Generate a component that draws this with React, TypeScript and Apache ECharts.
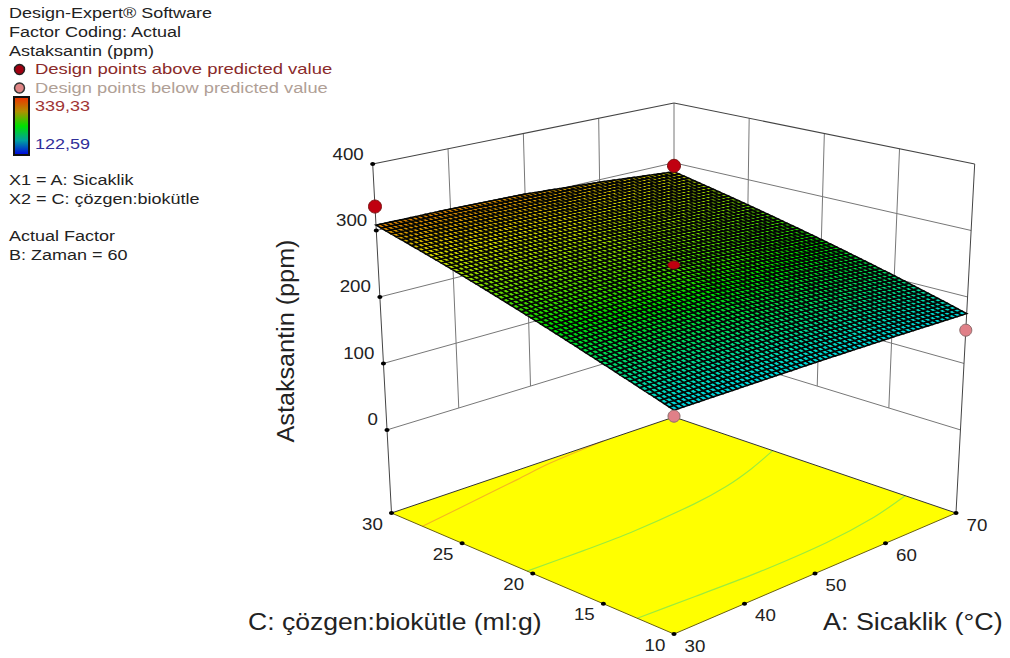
import React, { useEffect, useRef } from "react";
import * as echarts from "echarts";

// ---- Data ----
const aTicks = [30, 40, 50, 60, 70];
const cTicks = [10, 15, 20, 25, 30];
const zTicks = [0, 100, 200, 300, 400];
// Surface heights (ppm) estimated at the tick crossings; rows follow cTicks, columns aTicks.
const surfaceC10 = [174, 175, 176, 176, 175];
const surfaceC15 = [207, 211, 213, 210, 204];
const surfaceC20 = [241, 246, 249, 243, 232];
const surfaceC25 = [275, 277, 277, 270, 259];
const surfaceC30 = [308, 307, 304, 296, 285];
const surfaceRows = [surfaceC10, surfaceC15, surfaceC20, surfaceC25, surfaceC30];
// Design points [A, C, ppm]
const pointsAbove = [[30, 30, 336], [70, 30, 295]];
const pointCentre = [50, 20, 255];
const pointsBelow = [[70, 10, 150], [30, 10, 166]];
// Floor contours as [A, C]
const contourOrange = [[30, 27.8], [40, 28.6], [46, 29.1], [51.6, 29.6], [60, 30]];
const contourGreen1 = [[30, 20.4], [37.8, 20.3], [44.5, 20.3], [54.3, 20.7], [59.8, 21.2], [65, 22], [70, 23]];
const contourGreen2 = [[30, 12.6], [37.8, 12.4], [46.5, 12.2], [56.2, 12.3], [63.9, 12.8], [70, 13.6]];
const infoLines = ["Design-Expert® Software", "Factor Coding: Actual", "Astaksantin (ppm)"];
const colourMax = 339.33;
const colourMin = 122.59;

// ---- Projection of the box: corners of the floor and of the z=400 plane ----
const FLOOR_Z = -125;
const TOP_Z = 400;
const floorQ = { front: [674, 634], right: [956, 513], left: [391.5, 513], back: [674, 417] };
const topQ = { front: [674, 241], right: [974.7, 164], left: [372.7, 164], back: [674, 103] };
const bil = (q: any, a: number, c: number, k: number) =>
  q.front[k] * (1 - a) * (1 - c) + q.right[k] * a * (1 - c) + q.left[k] * (1 - a) * c + q.back[k] * a * c;
const project = (A: number, C: number, z: number) => {
  const a = (A - 30) / 40, c = (C - 10) / 20, t = (z - FLOOR_Z) / (TOP_Z - FLOOR_Z);
  return [0, 1].map((k) => bil(floorQ, a, c, k) * (1 - t) + bil(topQ, a, c, k) * t);
};

// The surface is shaded on a fine drawing mesh: cell corners between the read
// crossings above are interpolated for drawing only.
const MESH = 60;
const surfaceAt = (A: number, C: number) => {
  const x = Math.min((A - 30) / 10, 3.9999), y = Math.min((C - 10) / 5, 3.9999);
  const i = Math.floor(x), j = Math.floor(y), u = x - i, v = y - j;
  return (surfaceRows[j][i] * (1 - u) + surfaceRows[j][i + 1] * u) * (1 - v) +
    (surfaceRows[j + 1][i] * (1 - u) + surfaceRows[j + 1][i + 1] * u) * v;
};
const ramp = [[0, 0, 255], [0, 255, 255], [0, 255, 0], [255, 255, 0], [255, 0, 0]];
const colourOf = (z: number) => {
  const t = Math.max(0, Math.min(0.9999, (z - colourMin) / (colourMax - colourMin))) * 4;
  const i = Math.floor(t), f = t - i;
  const c = ramp[i].map((v, k) => Math.round((v + (ramp[i + 1][k] - v) * f) * 0.85));
  return `rgb(${c[0]},${c[1]},${c[2]})`;
};

const FONT = "Liberation Sans";
const text = (s: string, x: number, y: number, o: any = {}) => ({
  type: "text", x, y, scaleX: o.sx ?? 1.2, scaleY: o.sy ?? 1, rotation: o.rot ?? 0, z: 50,
  style: {
    text: s, fontFamily: FONT, fontSize: o.size ?? 15, fill: o.fill ?? "#222",
    textAlign: o.align ?? "left", textVerticalAlign: "middle", align: o.align ?? "left", verticalAlign: "middle",
  },
});

function buildOption() {
  const segWall: number[][] = [], segTop: number[][] = [], segDark: number[][] = [], segFloorBack: number[][] = [], segFloorFront: number[][] = [];
  zTicks.forEach((z) => {
    (z === 400 ? segTop : segWall).push([30, 30, z, 70, 30, z], [70, 30, z, 70, 10, z]);
  });
  aTicks.slice(1).forEach((A) => segWall.push([A, 30, 0, A, 30, 400]));
  cTicks.slice(1, 4).forEach((C) => segWall.push([70, C, 0, 70, C, 400]));
  segDark.push([30, 30, FLOOR_Z, 30, 30, 400], [70, 10, FLOOR_Z, 70, 10, 400]);
  segFloorBack.push([30, 30, FLOOR_Z, 70, 30, FLOOR_Z], [70, 30, FLOOR_Z, 70, 10, FLOOR_Z]);
  segFloorFront.push([30, 30, FLOOR_Z, 30, 10, FLOOR_Z], [30, 10, FLOOR_Z, 70, 10, FLOOR_Z]);

  const segSeries = (data: number[][], stroke: string, lineWidth: number) => ({
    type: "custom", coordinateSystem: "none", silent: true, data,
    renderItem: (_: any, api: any) => {
      const p = project(api.value(0), api.value(1), api.value(2));
      const q = project(api.value(3), api.value(4), api.value(5));
      return { type: "line", shape: { x1: p[0], y1: p[1], x2: q[0], y2: q[1] }, style: { stroke, lineWidth, fill: null } };
    },
  });
  const contour = (pts: number[][], stroke: string) => ({
    type: "custom", coordinateSystem: "none", silent: true, data: [0],
    renderItem: () => ({
      type: "polyline",
      shape: { points: pts.map((p) => project(p[0], p[1], FLOOR_Z)), smooth: 0.3 },
      style: { stroke, lineWidth: 1.2, fill: null },
    }),
  });

  const cells: number[][] = [];
  for (let i = 0; i < MESH; i++) for (let j = 0; j < MESH; j++) cells.push([i, j]);
  const node = (i: number, j: number) => {
    const A = 30 + (40 * i) / MESH, C = 10 + (20 * j) / MESH;
    return project(A, C, surfaceAt(A, C));
  };
  const surface = {
    type: "custom", coordinateSystem: "none", silent: true, data: cells,
    renderItem: (_: any, api: any) => {
      const i = api.value(0), j = api.value(1);
      const A = 30 + (40 * (i + 0.5)) / MESH, C = 10 + (20 * (j + 0.5)) / MESH;
      return {
        type: "polygon",
        shape: { points: [node(i, j), node(i + 1, j), node(i + 1, j + 1), node(i, j + 1)] },
        style: { fill: colourOf(surfaceAt(A, C)), stroke: "#040604", lineWidth: 1.55 },
      };
    },
  };
  const dots = (pts: number[][], fill: string, stroke: string, r: number, ry?: number) => ({
    type: "custom", coordinateSystem: "none", silent: true, data: pts,
    renderItem: (_: any, api: any) => {
      const p = project(api.value(0), api.value(1), api.value(2));
      return {
        type: "ellipse", shape: { cx: p[0], cy: p[1], rx: r, ry: ry ?? r },
        style: { fill, stroke, lineWidth: stroke === "none" ? 0 : 1 },
      };
    },
  });

  const tickDots = [
    ...zTicks.map((z) => [30, 30, z]),
    ...cTicks.map((C) => [30, C, FLOOR_Z]),
    ...aTicks.slice(1).map((A) => [A, 10, FLOOR_Z]),
  ];

  const g: any[] = [];
  infoLines.forEach((s, i) => g.push(text(s, 9, 13.5 + i * 18.7)));
  g.push(text("Design points above predicted value", 35, 69, { fill: "#8a2a2a", sx: 1.23 }));
  g.push(text("Design points below predicted value", 35, 88, { fill: "#b0a096", sx: 1.22 }));
  g.push(text("339,33", 35, 106, { fill: "#a03535" }));
  g.push(text("122,59", 35, 144, { fill: "#2f2f9a" }));
  g.push(text("X1 = A: Sicaklik", 9, 180));
  g.push(text("X2 = C: çözgen:biokütle", 9, 199));
  g.push(text("Actual Factor", 9, 236));
  g.push(text("B: Zaman = 60", 9, 255));
  g.push({ type: "circle", shape: { cx: 19.5, cy: 69.5, r: 5 }, style: { fill: "#a00010", stroke: "#222", lineWidth: 1.5 }, z: 50 });
  g.push({ type: "circle", shape: { cx: 19.5, cy: 88, r: 5 }, style: { fill: "#e08585", stroke: "#333", lineWidth: 1.5 }, z: 50 });
  g.push({
    type: "rect", shape: { x: 14, y: 97, width: 15, height: 58 }, z: 50,
    style: {
      stroke: "#111", lineWidth: 2,
      fill: new echarts.graphic.LinearGradient(0, 0, 0, 1, [
        { offset: 0, color: "#f03000" }, { offset: 0.25, color: "#b09000" }, { offset: 0.5, color: "#00e000" },
        { offset: 0.75, color: "#00a0a0" }, { offset: 1, color: "#0000e0" },
      ]),
    },
  });
  zTicks.forEach((z) => {
    const p = project(30, 30, z);
    g.push(text(String(z), p[0] - 9, p[1] - 10, { size: 16, sx: 1.17, align: "right" }));
  });
  cTicks.forEach((C) => {
    const p = project(30, C, FLOOR_Z);
    g.push(text(String(C), p[0] - 19, p[1] + 11, { size: 16, sx: 1.17, align: "center" }));
  });
  aTicks.forEach((A) => {
    const p = project(A, 10, FLOOR_Z);
    g.push(text(String(A), p[0] + 21, p[1] + 12, { size: 16, sx: 1.17, align: "center" }));
  });
  g.push(text("C: çözgen:biokütle (ml:g)", 248, 622, { size: 23, sx: 1.155 }));
  g.push(text("A: Sicaklik (°C)", 823, 622, { size: 23, sx: 1.17 }));
  g.push(text("Astaksantin (ppm)", 286, 341, { size: 21, sx: 1.2, sy: 1.15, align: "center", rot: Math.PI / 2 }));

  return {
    animation: false,
    backgroundColor: "#fff",
    graphic: g,
    series: [
      segSeries(segWall, "#777", 1),
      segSeries(segTop, "#444", 1.1),
      {
        type: "custom", coordinateSystem: "none", silent: true, data: [0],
        renderItem: () => ({
          type: "polygon",
          shape: { points: [project(30, 30, FLOOR_Z), project(70, 30, FLOOR_Z), project(70, 10, FLOOR_Z), project(30, 10, FLOOR_Z)] },
          style: { fill: "#ffff00" },
        }),
      },
      contour(contourOrange, "#f4b820"),
      contour(contourGreen1, "#9cec3c"),
      contour(contourGreen2, "#9cec3c"),
      segSeries(segFloorBack, "#333", 1),
      segSeries(segFloorFront, "#6a6010", 1),
      segSeries(segDark, "#444", 1),
      surface,
      dots(tickDots, "#000", "none", 2.5, 2),
      dots(pointsAbove, "#c00010", "#7a1010", 6.5),
      dots([pointCentre], "#c00010", "#7a1010", 6, 4),
      dots(pointsBelow, "#e08088", "#8a6a6a", 6),
    ],
  };
}

export default function App() {
  const ref = useRef<HTMLDivElement>(null);
  useEffect(() => {
    document.body.style.margin = "0";
    const chart = echarts.init(ref.current!, undefined, { renderer: "svg" });
    chart.setOption(buildOption() as any);
    return () => chart.dispose();
  }, []);
  return <div ref={ref} style={{ width: 1010, height: 658 }} />;
}
